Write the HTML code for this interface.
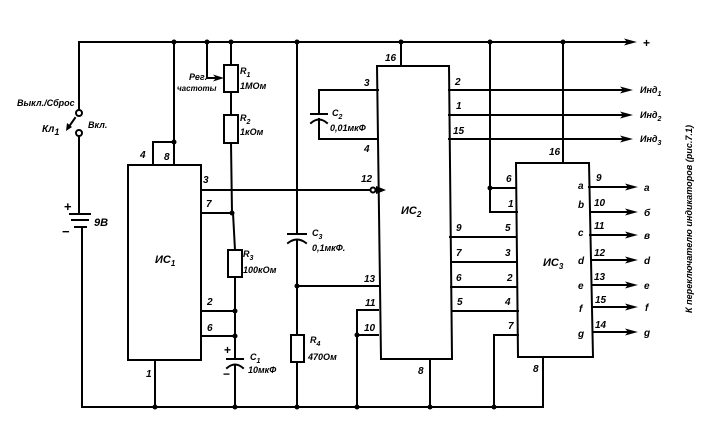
<!DOCTYPE html>
<html><head><meta charset="utf-8"><style>
html,body{margin:0;padding:0;background:#fff;}
svg{display:block;}
text{font-family:"Liberation Sans","DejaVu Sans",sans-serif;font-style:italic;font-weight:bold;fill:#000;font-size:10px;}
.s{font-size:9px;}
.b{font-weight:bold;}
</style></head><body>
<svg width="711" height="430" viewBox="0 0 711 430" xmlns="http://www.w3.org/2000/svg">
<rect width="711" height="430" fill="#fff"/>
<g stroke="#000" stroke-width="2" fill="none" stroke-linecap="square">
<line x1="79" y1="42" x2="627" y2="42"/>
<line x1="82" y1="407" x2="543" y2="407"/>
<line x1="79" y1="42" x2="79" y2="110"/>
<line x1="79" y1="136" x2="79" y2="214"/>
<line x1="82" y1="227" x2="82" y2="407"/>
<line x1="70" y1="214" x2="90" y2="214"/>
<line x1="72" y1="220" x2="88" y2="220"/>
<line x1="75" y1="227" x2="86" y2="227"/>
<line x1="75" y1="118" x2="68" y2="128"/>
<rect x="128" y="165" width="73" height="195"/>
<line x1="174" y1="42" x2="174" y2="165"/>
<polyline points="174,142 153,142 153,165"/>
<line x1="155" y1="360" x2="155" y2="407"/>
<line x1="201" y1="190" x2="371" y2="190"/>
<polyline points="201,213 232,213"/>
<line x1="201" y1="311" x2="235" y2="311"/>
<line x1="201" y1="336" x2="235" y2="336"/>
<line x1="231" y1="42" x2="231" y2="65"/>
<line x1="231" y1="92" x2="231" y2="115"/>
<line x1="231" y1="143" x2="232" y2="213"/>
<line x1="233" y1="213" x2="235" y2="250"/>
<line x1="235" y1="277" x2="235" y2="359"/>
<line x1="235" y1="366" x2="235" y2="407"/>
<polyline points="207,42 207,78 216,78"/>
<line x1="227" y1="359" x2="243" y2="359"/>
<path d="M227,368 Q235,361 243,368"/>
<line x1="297" y1="42" x2="297" y2="234"/>
<line x1="288" y1="234" x2="306" y2="234"/>
<path d="M288,243 Q297,236 306,243"/>
<line x1="297" y1="240" x2="297" y2="335"/>
<line x1="297" y1="362" x2="297" y2="407"/>
<line x1="297" y1="286" x2="378" y2="286"/>
<polyline points="378,310 357,310 357,407"/>
<line x1="357" y1="335" x2="378" y2="335"/>
<polyline points="378,90 319,90 319,114"/>
<polyline points="319,119 319,139 378,139"/>
<line x1="311" y1="114" x2="327" y2="114"/>
<path d="M311,123 Q319,116 327,123"/>
<polygon points="377,66 449,66 452,359 381,359"/>
<line x1="401" y1="42" x2="401" y2="66"/>
<line x1="430" y1="359" x2="430" y2="407"/>
<line x1="449" y1="90" x2="622" y2="90"/>
<line x1="449" y1="115" x2="622" y2="115"/>
<line x1="449" y1="139" x2="622" y2="139"/>
<line x1="450" y1="237" x2="516" y2="237"/>
<line x1="451" y1="262" x2="517" y2="262"/>
<line x1="451" y1="287" x2="517" y2="287"/>
<line x1="452" y1="311" x2="518" y2="311"/>
<polygon points="516,163 589,163 593,357 518,357"/>
<line x1="563" y1="42" x2="563" y2="163"/>
<line x1="490" y1="42" x2="490" y2="212"/>
<line x1="490" y1="188" x2="516" y2="188"/>
<line x1="490" y1="212" x2="517" y2="212"/>
<polyline points="518,335 494,335 494,407"/>
<line x1="543" y1="357" x2="543" y2="407"/>
<line x1="589" y1="187" x2="627" y2="187"/>
<line x1="590" y1="212" x2="627" y2="212"/>
<line x1="590" y1="235" x2="627" y2="235"/>
<line x1="591" y1="260" x2="627" y2="260"/>
<line x1="592" y1="285" x2="627" y2="285"/>
<line x1="592" y1="307" x2="627" y2="307"/>
<line x1="593" y1="332" x2="627" y2="332"/>
</g>
<g stroke="#000" stroke-width="2" fill="#fff">
<rect x="224" y="65" width="14" height="27"/>
<rect x="224" y="115" width="14" height="28"/>
<rect x="228" y="250" width="14" height="27"/>
<rect x="291" y="335" width="13" height="27"/>
<circle cx="79" cy="113" r="3"/>
<circle cx="79" cy="133" r="3"/>
<circle cx="373" cy="190" r="2.5"/>
</g>
<g fill="#000">
<polygon points="376,186 386,190 376,194"/>
<polygon points="66,131 67,123 72,127"/>
<polygon points="224,78 213,74.5 216,78 213,81.5"/>
<polygon points="637,42 624,38.5 627,42 624,45.5"/>
<polygon points="633,90 620,86.5 623,90 620,93.5"/>
<polygon points="633,115 620,111.5 623,115 620,118.5"/>
<polygon points="633,139 620,135.5 623,139 620,142.5"/>
<polygon points="638,187 625,183.5 628,187 625,190.5"/>
<polygon points="638,212 625,208.5 628,212 625,215.5"/>
<polygon points="638,235 625,231.5 628,235 625,238.5"/>
<polygon points="638,260 625,256.5 628,260 625,263.5"/>
<polygon points="638,285 625,281.5 628,285 625,288.5"/>
<polygon points="638,307 625,303.5 628,307 625,310.5"/>
<polygon points="638,332 625,328.5 628,332 625,335.5"/>
<circle cx="174" cy="42" r="2.5"/><circle cx="207" cy="42" r="2.5"/><circle cx="231" cy="42" r="2.5"/>
<circle cx="297" cy="42" r="2.5"/><circle cx="401" cy="42" r="2.5"/><circle cx="490" cy="42" r="2.5"/><circle cx="563" cy="42" r="2.5"/>
<circle cx="174" cy="142" r="2.5"/><circle cx="232" cy="213" r="2.5"/>
<circle cx="235" cy="311" r="2.5"/><circle cx="235" cy="336" r="2.5"/>
<circle cx="297" cy="286" r="2.5"/><circle cx="357" cy="335" r="2.5"/><circle cx="490" cy="188" r="2.5"/>
<circle cx="155" cy="407" r="2.5"/><circle cx="235" cy="407" r="2.5"/><circle cx="297" cy="407" r="2.5"/>
<circle cx="357" cy="407" r="2.5"/><circle cx="430" cy="407" r="2.5"/><circle cx="494" cy="407" r="2.5"/>
</g>
<text x="17" y="106" class="b s">Выкл./Сброс</text>
<text x="42" y="132" class="b">Кл<tspan class="s" dy="3">1</tspan></text>
<text x="88" y="128" class="s b">Вкл.</text>
<text x="64" y="211" class="b" style="font-size:13px;font-style:normal">+</text>
<text x="62" y="236" class="b" style="font-size:13px;font-style:normal">−</text>
<text x="94" y="226" class="b" style="font-size:11px">9В</text>
<text x="189" y="80" class="s">Рег.</text>
<text x="177" y="91" style="font-size:8px">частоты</text>
<text x="240" y="74" class="s">R<tspan dy="3" style="font-size:7px">1</tspan></text>
<text x="240" y="89" class="s">1МОм</text>
<text x="240" y="121" class="s">R<tspan dy="3" style="font-size:7px">2</tspan></text>
<text x="240" y="135" class="s">1кОм</text>
<text x="140" y="158">4</text>
<text x="164" y="160">8</text>
<text x="203" y="183">3</text>
<text x="206" y="207">7</text>
<text x="155" y="263" style="font-size:11px">ИС<tspan dy="3" style="font-size:8px">1</tspan></text>
<text x="207" y="305">2</text>
<text x="207" y="331">6</text>
<text x="146" y="377">1</text>
<text x="243" y="257" class="s">R<tspan dy="3" style="font-size:7px">3</tspan></text>
<text x="243" y="273" class="s">100кОм</text>
<text x="224" y="354" class="b" style="font-size:12px;font-style:normal">+</text>
<text x="223" y="378" class="b" style="font-size:12px;font-style:normal">−</text>
<text x="250" y="360" class="s">C<tspan dy="3" style="font-size:7px">1</tspan></text>
<text x="248" y="373" class="s">10мкФ</text>
<text x="312" y="236" class="s">C<tspan dy="3" style="font-size:7px">3</tspan></text>
<text x="312" y="251" class="s">0,1мкФ.</text>
<text x="310" y="343" class="s">R<tspan dy="3" style="font-size:7px">4</tspan></text>
<text x="308" y="360" class="s">470Ом</text>
<text x="332" y="116" class="s">C<tspan dy="3" style="font-size:7px">2</tspan></text>
<text x="330" y="131" class="s">0,01мкФ</text>
<text x="385" y="61">16</text>
<text x="364" y="86">3</text>
<text x="364" y="152">4</text>
<text x="361" y="182">12</text>
<text x="364" y="282">13</text>
<text x="365" y="306">11</text>
<text x="364" y="331">10</text>
<text x="401" y="214" style="font-size:11px">ИС<tspan dy="3" style="font-size:8px">2</tspan></text>
<text x="418" y="374">8</text>
<text x="455" y="85">2</text>
<text x="456" y="109">1</text>
<text x="453" y="134">15</text>
<text x="456" y="231">9</text><text x="505" y="231">5</text>
<text x="456" y="256">7</text><text x="505" y="256">3</text>
<text x="456" y="281">6</text><text x="507" y="281">2</text>
<text x="457" y="305">5</text><text x="505" y="305">4</text>
<text x="506" y="182">6</text>
<text x="508" y="207">1</text>
<text x="549" y="155">16</text>
<text x="508" y="329">7</text>
<text x="533" y="372">8</text>
<text x="543" y="266" style="font-size:11px">ИС<tspan dy="3" style="font-size:8px">3</tspan></text>
<text x="578" y="189">a</text>
<text x="578" y="208">b</text>
<text x="578" y="236">c</text>
<text x="578" y="264">d</text>
<text x="578" y="289">e</text>
<text x="579" y="312">f</text>
<text x="578" y="337">g</text>
<text x="596" y="181">9</text>
<text x="594" y="206">10</text>
<text x="594" y="229">11</text>
<text x="594" y="256">12</text>
<text x="594" y="280">13</text>
<text x="595" y="303">15</text>
<text x="595" y="328">14</text>
<text x="644" y="191">a</text>
<text x="644" y="216">б</text>
<text x="644" y="239">в</text>
<text x="644" y="264">d</text>
<text x="644" y="289">e</text>
<text x="645" y="311">f</text>
<text x="644" y="336">g</text>
<text x="643" y="47" class="b" style="font-size:12px;font-style:normal">+</text>
<text x="640" y="93" class="s">Инд<tspan dy="3" style="font-size:7px">1</tspan></text>
<text x="640" y="118" class="s">Инд<tspan dy="3" style="font-size:7px">2</tspan></text>
<text x="640" y="142" class="s">Инд<tspan dy="3" style="font-size:7px">3</tspan></text>
<text transform="translate(692,313) rotate(-90)" class="s b" textLength="188" lengthAdjust="spacingAndGlyphs">К переключателю индикаторов (рис.7.1)</text>
</svg>
</body></html>
